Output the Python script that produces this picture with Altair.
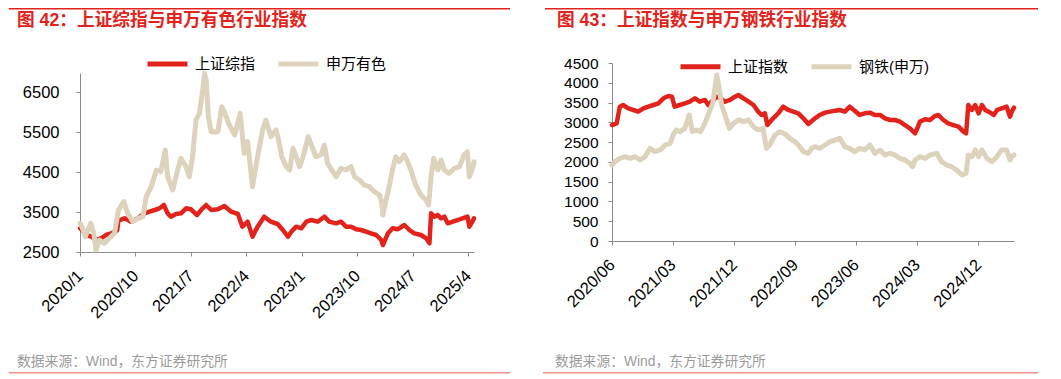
import altair as alt
import pandas as pd

FONT = "Liberation Sans, Noto Sans CJK SC"
RED = "#E2231B"
BEIGE = "#DDD3BC"
SRC_COLOR = "#9B9B9B"
BOTTOM_RULE = "#F0928A"

source_text = "数据来源：Wind，东方证券研究所"

# ---------------- Left panel: 上证综指 vs 申万有色 ----------------
left_title = "图 42：上证综指与申万有色行业指数"
left_names = ["上证综指", "申万有色"]

left_sh_dates = [
    "2020-01-02", "2020-01-11", "2020-02-02", "2020-02-26", "2020-03-20", "2020-04-14",
    "2020-05-08", "2020-06-03", "2020-06-23", "2020-07-03", "2020-07-09", "2020-07-18",
    "2020-08-08", "2020-09-10", "2020-10-13", "2020-11-15", "2020-12-09", "2021-01-04",
    "2021-01-28", "2021-02-18", "2021-03-09", "2021-03-25", "2021-04-19", "2021-05-14",
    "2021-06-08", "2021-07-02", "2021-08-01", "2021-08-24", "2021-09-15", "2021-10-10",
    "2021-11-12", "2021-12-14", "2022-01-17", "2022-02-19", "2022-03-13", "2022-04-08",
    "2022-05-02", "2022-05-27", "2022-06-29", "2022-08-01", "2022-09-03", "2022-09-29",
    "2022-10-24", "2022-11-10", "2022-12-04", "2022-12-29", "2023-01-23", "2023-02-17",
    "2023-03-20", "2023-04-22", "2023-05-16", "2023-06-19", "2023-07-13", "2023-08-07",
    "2023-09-01", "2023-09-26", "2023-10-20", "2023-11-14", "2023-12-08", "2024-01-03",
    "2024-01-28", "2024-02-05", "2024-03-01", "2024-03-24", "2024-04-18", "2024-05-21",
    "2024-06-15", "2024-07-09", "2024-08-11", "2024-09-06", "2024-09-22", "2024-09-30",
    "2024-10-16", "2024-11-02", "2024-11-18", "2024-12-05", "2024-12-21", "2025-01-15",
    "2025-02-09", "2025-03-04", "2025-03-29", "2025-04-07", "2025-04-22", "2025-04-30",
]
left_sh_vals = [
    3092, 3050, 2925, 2883, 2800, 2842,
    2925, 2967, 3008, 3050, 3300, 3300,
    3342, 3258, 3342, 3467, 3508, 3550,
    3592, 3675, 3467, 3383, 3450, 3467,
    3592, 3567, 3425, 3567, 3675, 3550,
    3567, 3650, 3508, 3450, 3133, 3258,
    2883, 3133, 3383, 3258, 3200, 3050,
    2883, 3008, 3133, 3092, 3258, 3300,
    3258, 3383, 3258, 3217, 3258, 3133,
    3133, 3067, 3050, 3008, 2967, 2925,
    2800, 2675, 2967, 3092, 3067, 3175,
    3050, 2967, 2925, 2842, 2717, 3467,
    3383, 3425, 3342, 3383, 3217, 3258,
    3300, 3342, 3383, 3133, 3258, 3342,
]

left_nf_dates = [
    "2020-01-02", "2020-01-11", "2020-01-27", "2020-02-23", "2020-03-09", "2020-03-20",
    "2020-04-06", "2020-04-30", "2020-05-25", "2020-06-19", "2020-07-09", "2020-08-04",
    "2020-08-24", "2020-09-18", "2020-10-13", "2020-11-07", "2020-11-23", "2020-12-18",
    "2021-01-12", "2021-02-03", "2021-02-25", "2021-03-09", "2021-04-03", "2021-04-27",
    "2021-05-14", "2021-06-08", "2021-06-24", "2021-07-10", "2021-07-27", "2021-08-13",
    "2021-08-29", "2021-09-07", "2021-09-15", "2021-09-26", "2021-10-10", "2021-11-12",
    "2021-12-01", "2021-12-14", "2022-01-04", "2022-02-03", "2022-03-02", "2022-03-22",
    "2022-04-08", "2022-05-02", "2022-05-27", "2022-06-21", "2022-07-07", "2022-08-01",
    "2022-08-26", "2022-09-04", "2022-09-24", "2022-10-16", "2022-11-02", "2022-11-18",
    "2022-12-04", "2022-12-20", "2023-01-07", "2023-02-01", "2023-02-20", "2023-03-11",
    "2023-04-05", "2023-04-22", "2023-05-08", "2023-05-28", "2023-06-19", "2023-07-13",
    "2023-08-07", "2023-09-01", "2023-09-18", "2023-10-12", "2023-11-06", "2023-12-01",
    "2023-12-25", "2024-01-19", "2024-01-31", "2024-02-05", "2024-02-21", "2024-03-07",
    "2024-03-23", "2024-04-09", "2024-04-26", "2024-05-20", "2024-06-06", "2024-06-22",
    "2024-07-16", "2024-08-11", "2024-09-05", "2024-09-18", "2024-09-30", "2024-10-13",
    "2024-11-02", "2024-11-18", "2024-12-04", "2024-12-29", "2025-01-23", "2025-02-17",
    "2025-03-12", "2025-03-28", "2025-04-07", "2025-04-25", "2025-04-30",
]
left_nf_vals = [
    3217, 3133, 2883, 3217, 2967, 2550,
    2800, 2717, 2842, 2967, 3550, 3758,
    3467, 3258, 3342, 3383, 3883, 4133,
    4550, 4508, 5050, 4383, 4050, 4550,
    4842, 4633, 4383, 4883, 5800, 5967,
    6550, 6967, 6800, 5883, 5508, 5508,
    6133, 6008, 5717, 5425, 5967, 4967,
    5258, 4133, 4883, 5550, 5800, 5383,
    5550, 5383, 4883, 4633, 4550, 5092,
    4883, 4633, 4883, 5383, 5133, 4883,
    4925, 5175, 4717, 4550, 4383, 4592,
    4550, 4633, 4383, 4300, 4175, 4133,
    4008, 3925, 3717, 3425, 3800, 4133,
    4550, 4883, 4758, 4925, 4758, 4550,
    4175, 3925, 3800, 3675, 4383, 4842,
    4550, 4800, 4550, 4467, 4592, 4633,
    4925, 5008, 4383, 4633, 4758,
]
left_xdomain = ["2020-01-01", "2025-04-30"]
left_xticks = ["2020-01-01", "2020-10-01", "2021-07-01", "2022-04-01",
               "2023-01-01", "2023-10-01", "2024-07-01", "2025-04-01"]
left_ydomain = [2500, 6975]
left_yticks = [2500, 3500, 4500, 5500, 6500]

# ---------------- Right panel: 上证指数 vs 钢铁(申万) ----------------
right_title = "图 43：上证指数与申万钢铁行业指数"
right_names = ["上证指数", "钢铁(申万)"]

right_sh_dates = [
    "2020-06-01", "2020-06-22", "2020-07-06", "2020-07-21", "2020-08-13", "2020-09-05",
    "2020-09-27", "2020-10-20", "2020-11-11", "2020-12-04", "2020-12-26", "2021-01-18",
    "2021-02-10", "2021-02-25", "2021-03-09", "2021-04-01", "2021-04-24", "2021-05-16",
    "2021-06-08", "2021-06-30", "2021-07-23", "2021-08-07", "2021-08-22", "2021-09-14",
    "2021-09-29", "2021-10-21", "2021-11-13", "2021-12-05", "2021-12-20", "2022-01-12",
    "2022-02-04", "2022-02-26", "2022-03-19", "2022-04-03", "2022-04-18", "2022-04-29",
    "2022-05-25", "2022-06-17", "2022-07-09", "2022-08-01", "2022-08-23", "2022-09-15",
    "2022-10-08", "2022-10-30", "2022-11-29", "2022-12-21", "2023-01-13", "2023-02-05",
    "2023-02-27", "2023-03-20", "2023-04-12", "2023-05-04", "2023-05-26", "2023-06-18",
    "2023-07-10", "2023-08-02", "2023-08-25", "2023-09-17", "2023-10-09", "2023-11-01",
    "2023-11-23", "2023-12-15", "2024-01-07", "2024-01-29", "2024-02-21", "2024-03-02",
    "2024-03-14", "2024-04-06", "2024-04-28", "2024-05-20", "2024-06-05", "2024-06-27",
    "2024-07-19", "2024-08-11", "2024-09-03", "2024-09-25", "2024-10-07", "2024-10-17",
    "2024-11-02", "2024-11-17", "2024-12-02", "2024-12-17", "2025-01-01", "2025-01-24",
    "2025-02-08", "2025-02-23", "2025-03-15", "2025-04-07", "2025-04-22", "2025-04-30",
    "2025-05-10",
]
right_sh_vals = [
    2932, 2975, 3396, 3438, 3354, 3312,
    3270, 3354, 3396, 3438, 3480, 3607,
    3666, 3650, 3396, 3438, 3480, 3522,
    3607, 3522, 3565, 3438, 3522, 3649,
    3620, 3522, 3565, 3649, 3691, 3607,
    3522, 3438, 3270, 3186, 3228, 2932,
    3101, 3228, 3396, 3312, 3270, 3228,
    3101, 2960, 3101, 3186, 3245, 3270,
    3295, 3312, 3270, 3396, 3295, 3186,
    3228, 3245, 3186, 3186, 3101, 3059,
    3059, 3017, 2932, 2848, 2722, 2848,
    3017, 3076, 3059, 3160, 3186, 3059,
    2975, 2932, 2890, 2764, 2722, 3438,
    3312, 3438, 3228, 3438, 3312, 3245,
    3186, 3312, 3354, 3396, 3143, 3270,
    3370,
]

right_st_dates = [
    "2020-06-01", "2020-06-14", "2020-07-06", "2020-07-29", "2020-08-20", "2020-09-12",
    "2020-10-05", "2020-10-27", "2020-11-19", "2020-12-11", "2021-01-03", "2021-01-26",
    "2021-02-17", "2021-03-02", "2021-03-17", "2021-04-04", "2021-04-24", "2021-05-13",
    "2021-05-28", "2021-06-15", "2021-07-03", "2021-07-23", "2021-08-12", "2021-08-27",
    "2021-09-06", "2021-09-14", "2021-09-24", "2021-10-06", "2021-10-21", "2021-11-10",
    "2021-11-28", "2021-12-20", "2022-01-12", "2022-02-04", "2022-02-26", "2022-03-19",
    "2022-04-10", "2022-04-25", "2022-05-10", "2022-06-02", "2022-06-24", "2022-07-17",
    "2022-08-08", "2022-08-31", "2022-09-15", "2022-10-08", "2022-10-30", "2022-11-14",
    "2022-11-29", "2022-12-21", "2023-01-13", "2023-02-05", "2023-02-27", "2023-03-20",
    "2023-04-12", "2023-05-04", "2023-05-26", "2023-06-18", "2023-07-10", "2023-08-02",
    "2023-08-25", "2023-09-17", "2023-10-09", "2023-11-01", "2023-11-23", "2023-12-15",
    "2024-01-07", "2024-01-29", "2024-02-10", "2024-02-21", "2024-03-14", "2024-04-06",
    "2024-04-28", "2024-05-28", "2024-06-19", "2024-07-12", "2024-08-03", "2024-08-26",
    "2024-09-18", "2024-10-07", "2024-10-17", "2024-11-02", "2024-11-17", "2024-12-02",
    "2024-12-17", "2025-01-08", "2025-01-31", "2025-02-23", "2025-03-15", "2025-04-07",
    "2025-04-22", "2025-04-30", "2025-05-10",
]
right_st_vals = [
    1921, 2006, 2090, 2132, 2090, 2132,
    2048, 2132, 2343, 2259, 2301, 2427,
    2469, 2680, 2806, 2764, 2848, 3186,
    2764, 2806, 2764, 2975, 3270, 3480,
    3860, 4197, 3902, 3438, 3186, 2848,
    2975, 3059, 3017, 3059, 2890, 2806,
    2848, 2343, 2427, 2680, 2764, 2705,
    2596, 2511, 2427, 2259, 2217, 2343,
    2385, 2343, 2427, 2511, 2553, 2596,
    2385, 2343, 2259, 2343, 2301, 2427,
    2217, 2301, 2175, 2217, 2175, 2090,
    2048, 1964, 1880, 2048, 2132, 2090,
    2175, 2217, 2006, 1921, 1880, 1795,
    1669, 1711, 2175, 2132, 2301, 2132,
    2301, 2090, 2006, 2132, 2301, 2301,
    2048, 2132, 2175,
]
right_xdomain = ["2020-06-01", "2025-05-10"]
right_xticks = ["2020-06-01", "2021-03-01", "2021-12-01", "2022-09-01",
                "2023-06-01", "2024-03-01", "2024-12-01"]
right_ydomain = [0, 4500]
right_yticks = [0, 500, 1000, 1500, 2000, 2500, 3000, 3500, 4000, 4500]


def dt(s):
    y, m, d = (int(p) for p in s.split("-"))
    return alt.DateTime(year=y, month=m, date=d, utc=True)


def one_row(text):
    return alt.Chart(pd.DataFrame({"t": [text]}))


def panel(title, names, d1, v1, d2, v2, xdomain, xticks, xfmt, ydomain, yticks,
          yrange, width, height, yfs, xfs, ylabpad, xlabpad, leg_x, leg_y,
          title_x, rule_x1, rule_x2, src_x, bot_x1):
    df = pd.DataFrame({
        "date": d1 + d2,
        "value": v1 + v2,
        "series": [names[0]] * len(d1) + [names[1]] * len(d2),
    })
    if yrange is not None:
        yscale = alt.Scale(domain=ydomain, nice=False, zero=False, range=yrange)
    else:
        yscale = alt.Scale(domain=ydomain, nice=False, zero=False)
    x = alt.X(
        "date:T",
        scale=alt.Scale(type="utc", domain=[dt(xdomain[0]), dt(xdomain[1])]),
        axis=alt.Axis(
            title=None, values=[dt(v) for v in xticks],
            labelExpr=f"utcFormat(datum.value, '{xfmt}')",
            labelAngle=-45, labelAlign="right", labelBaseline="middle",
            labelFontSize=xfs, labelPadding=xlabpad, tickSize=4,
            labelFlush=False, labelOverlap=False, grid=False,
        ),
    )
    y = alt.Y(
        "value:Q", scale=yscale,
        axis=alt.Axis(
            title=None, values=yticks, format="d", labelFontSize=yfs,
            labelPadding=ylabpad, tickSize=4, labelOverlap=False, grid=False,
        ),
    )
    color = alt.Color(
        "series:N",
        scale=alt.Scale(domain=names, range=[RED, BEIGE]),
        legend=alt.Legend(
            title=None, orient="none", legendX=leg_x, legendY=leg_y,
            direction="horizontal", symbolType="stroke", symbolSize=1600,
            symbolStrokeWidth=5, labelFontSize=15, labelFont=FONT,
            labelColor="#000000", labelOffset=5, columnPadding=20,
            padding=0, clipHeight=18,
        ),
    )
    base = alt.Chart(df).encode(x=x, y=y, color=color)
    red_line = base.transform_filter(alt.datum.series == names[0]).mark_line(
        strokeWidth=4.5, strokeJoin="round", strokeCap="round")
    beige_line = base.transform_filter(alt.datum.series == names[1]).mark_line(
        strokeWidth=5, strokeJoin="round", strokeCap="round")

    top_rule = one_row(title).mark_rule(color=RED, strokeWidth=1.5).encode(
        x=alt.value(rule_x1), x2=alt.value(rule_x2), y=alt.value(-54.25))
    title_txt = one_row(title).mark_text(
        align="left", baseline="middle", font=FONT, fontSize=17.7,
        fontWeight="bold", color=RED,
    ).encode(text="t:N", x=alt.value(title_x), y=alt.value(-42))
    src_txt = one_row(source_text).mark_text(
        align="left", baseline="middle", font=FONT, fontSize=13.8, color=SRC_COLOR,
    ).encode(text="t:N", x=alt.value(src_x), y=alt.value(298.7))
    bot_rule = one_row(source_text).mark_rule(color=BOTTOM_RULE, strokeWidth=1.5).encode(
        x=alt.value(bot_x1), x2=alt.value(rule_x2), y=alt.value(309.7))

    return alt.layer(top_rule, title_txt, red_line, beige_line, src_txt, bot_rule).properties(
        width=width, height=height)


left = panel(left_title, left_names, left_sh_dates, left_sh_vals, left_nf_dates, left_nf_vals,
             left_xdomain, left_xticks, "%Y/%-m", left_ydomain, left_yticks,
             [189, 10], 394, 189, 16.5, 16.5, 17, 17, 65, -8,
             -63, -71.25, 430, -63, -71.25)
right = panel(right_title, right_names, right_sh_dates, right_sh_vals, right_st_dates, right_st_vals,
              right_xdomain, right_xticks, "%Y/%m", right_ydomain, right_yticks,
              None, 402, 178, 15.5, 16.5, 10, 17, 66, -5.3,
              -55, -67, 426, -57, -69)

chart = alt.hconcat(left, right).properties(
    spacing=138, bounds="flush", padding=0,
).resolve_scale(
    x="independent", y="independent", color="independent",
).resolve_legend(color="independent").configure_view(stroke=None).configure_axis(
    domainColor="#8C8C8C", tickColor="#8C8C8C", labelColor="#000000",
    labelFont="Liberation Sans", domainWidth=1,
)

chart.save("out.html", embed_options={"renderer": "svg", "actions": False})
